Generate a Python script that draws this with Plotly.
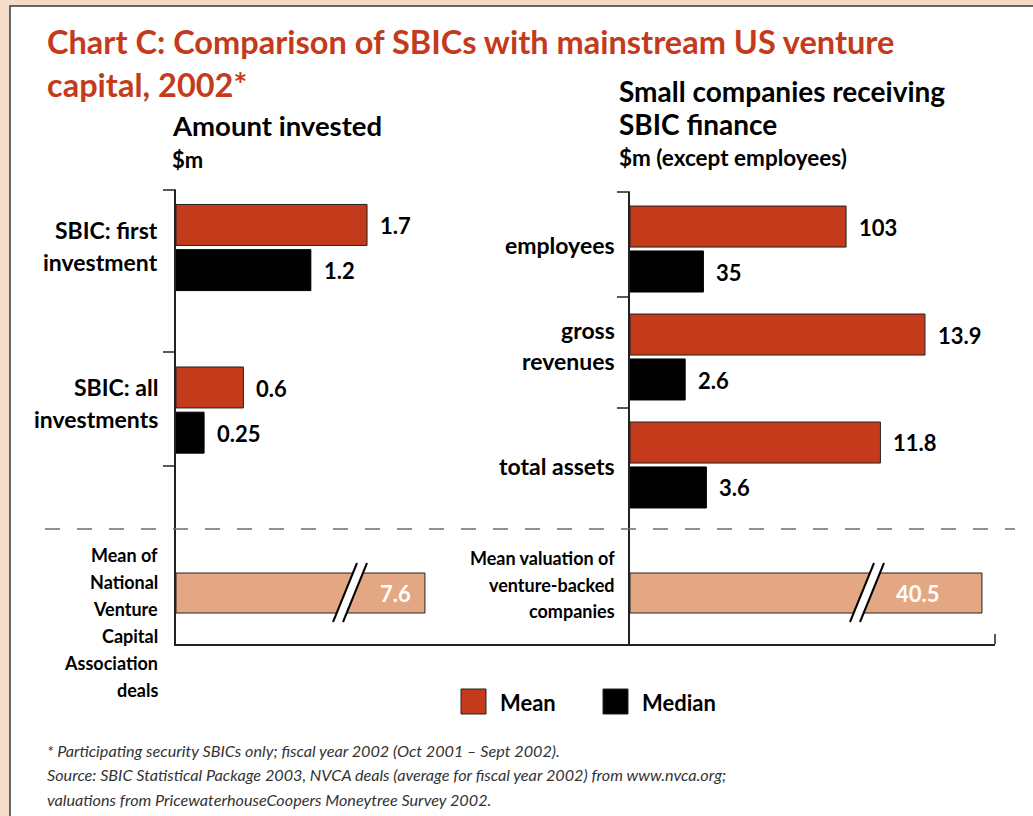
import plotly.graph_objects as go

# ---- data -------------------------------------------------------------
left_categories = ["SBIC: first investment", "SBIC: all investments"]
left_label_lines = [["SBIC: first", "investment"], ["SBIC: all", "investments"]]
left_mean = [1.7, 0.6]
left_median = [1.2, 0.25]

right_categories = ["employees", "gross revenues", "total assets"]
right_label_lines = [["employees"], ["gross", "revenues"], ["total assets"]]
employee_categories = ["employees"]
employees_mean = [103]
employees_median = [35]
money_categories = ["gross revenues", "total assets"]
money_mean = [13.9, 11.8]
money_median = [2.6, 3.6]

nvca_categories = ["Mean of National Venture Capital Association deals"]
nvca_label_lines = ["Mean of", "National", "Venture", "Capital", "Association", "deals"]
nvca_mean = [7.6]
valuation_categories = ["Mean valuation of venture-backed companies"]
valuation_label_lines = ["Mean valuation of", "venture-backed", "companies"]
valuation_mean = [40.5]

title_lines = ["Chart C: Comparison of SBICs with mainstream US venture", "capital, 2002*"]
footnotes = [
    "* Participating security SBICs only; fiscal year 2002 (Oct 2001 \u2013 Sept 2002).",
    "Source: SBIC Statistical Package 2003, NVCA deals (average for fiscal year 2002) from www.nvca.org;",
    "valuations from PricewaterhouseCoopers Moneytree Survey 2002.",
]

# ---- styling ----------------------------------------------------------
W, H = 1033, 816
RED = "#C33B1B"
BLACK = "#000000"
PEACH_BAR = "#E4A784"
PAGE = "#F5DCC9"
EDGE = "#222222"
FONT = "Lato"
HEAVY = 700


def fx(px):
    return px / W


def fy(py):
    return 1 - py / H


def bold(size, color=BLACK):
    return dict(family=FONT, size=size, color=color, weight=HEAVY)


annotations = []
shapes = []


def text(t, x, y, size, color=BLACK, anchor="left", weight=HEAVY, style="normal"):
    annotations.append(dict(
        text=t, x=fx(x), y=fy(y), xref="paper", yref="paper",
        xanchor=anchor, yanchor="middle", showarrow=False,
        font=dict(family=FONT, size=size, color=color, weight=weight, style=style),
    ))


def stacked(lines, x_right, y_first, spacing, size):
    for i, line in enumerate(lines):
        text(line, x_right, y_first + i * spacing, size, anchor="right")


def line(x0, y0, x1, y1, color=EDGE, width=1.5, dash=None):
    shapes.append(dict(type="line", xref="paper", yref="paper",
                       x0=fx(x0), y0=fy(y0), x1=fx(x1), y1=fy(y1),
                       line=dict(color=color, width=width, dash=dash)))


fig = go.Figure()

hbar = dict(orientation="h", showlegend=False, hoverinfo="skip")
red_style = dict(color=RED, line=dict(color=EDGE, width=1))
black_style = dict(color=BLACK, line=dict(color=BLACK, width=1))

# Left panel: amount invested
L_W, L_OFF = 0.252, 0.013
fig.add_trace(go.Bar(y=left_categories, x=left_mean, marker=red_style,
                     width=L_W, offset=-L_W - L_OFF, xaxis="x", yaxis="y", **hbar))
fig.add_trace(go.Bar(y=left_categories, x=left_median, marker=black_style,
                     width=L_W, offset=L_OFF, xaxis="x", yaxis="y", **hbar))

# Right panel: employees on their own scale, money values on a $m scale
R_W, R_OFF = 0.38, 0.018
fig.add_trace(go.Bar(y=employee_categories, x=employees_mean, marker=red_style,
                     width=R_W, offset=-R_W - R_OFF, xaxis="x3", yaxis="y2", **hbar))
fig.add_trace(go.Bar(y=employee_categories, x=employees_median, marker=black_style,
                     width=R_W, offset=R_OFF, xaxis="x3", yaxis="y2", **hbar))
fig.add_trace(go.Bar(y=money_categories, x=money_mean, marker=red_style,
                     width=R_W, offset=-R_W - R_OFF, xaxis="x2", yaxis="y2", **hbar))
fig.add_trace(go.Bar(y=money_categories, x=money_median, marker=black_style,
                     width=R_W, offset=R_OFF, xaxis="x2", yaxis="y2", **hbar))

# Bottom strip: venture-capital benchmarks on broken scales
peach_style = dict(color=PEACH_BAR, line=dict(color=EDGE, width=1))
fig.add_trace(go.Bar(y=nvca_categories, x=nvca_mean, marker=peach_style,
                     width=0.4, offset=-0.2, xaxis="x4", yaxis="y4", **hbar))
fig.add_trace(go.Bar(y=valuation_categories, x=valuation_mean, marker=peach_style,
                     width=0.4, offset=-0.2, xaxis="x5", yaxis="y5", **hbar))

# value labels
def value_labels(cats, vals, xref, yref, yshift):
    for c, v in zip(cats, vals):
        annotations.append(dict(
            text=f"{v:g}", x=v, y=c, xref=xref, yref=yref,
            xanchor="left", yanchor="middle", xshift=11, yshift=yshift,
            showarrow=False, font=bold(22)))


value_labels(left_categories, left_mean, "x", "y", 22)
value_labels(left_categories, left_median, "x", "y", -23)
value_labels(employee_categories, employees_mean, "x3", "y2", 22)
value_labels(employee_categories, employees_median, "x3", "y2", -23)
value_labels(money_categories, money_mean, "x2", "y2", 22)
value_labels(money_categories, money_median, "x2", "y2", -23)

for cats, vals, xr, yr, shift in [(nvca_categories, nvca_mean, "x4", "y4", -12),
                                  (valuation_categories, valuation_mean, "x5", "y5", -40)]:
    for c, v in zip(cats, vals):
        annotations.append(dict(
            text=f"{v:g}", x=v, y=c, xref=xr, yref=yr,
            xanchor="right", yanchor="middle", xshift=shift, showarrow=False,
            font=bold(22, "white")))

# titles
text(title_lines[0], 45, 41, 32.5, RED)
text(title_lines[1], 45, 85, 32.5, RED)
text("Amount invested", 170, 125, 27.5)
text("$m", 170, 160, 22)
text("Small companies receiving", 617, 91, 28)
text("SBIC finance", 617, 124, 28)
text("$m (except employees)", 617, 157, 22.5)

# category labels
for lines, y0 in zip(left_label_lines, [230, 387]):
    stacked(lines, 160, y0, 32, 23)
for lines, y0 in zip(right_label_lines, [245, 330, 466]):
    stacked(lines, 617, y0, 31, 23)
stacked(nvca_label_lines, 160, 555, 27, 18)
stacked(valuation_label_lines, 617, 558, 26.5, 18)

# footnotes
for i, note in enumerate(footnotes):
    text(note, 45, 750 + i * 24.5, 16.2, "#333333", weight=400, style="italic")

# legend
for (x0, color, label) in [(461, RED, "Mean"), (603, BLACK, "Median")]:
    shapes.append(dict(type="rect", xref="paper", yref="paper",
                       x0=fx(x0), x1=fx(x0 + 25), y0=fy(714), y1=fy(689),
                       fillcolor=color, line=dict(color=EDGE, width=1)))
    text(label, x0 + 37, 702, 22)

# page frame
shapes.insert(0, dict(type="rect", xref="paper", yref="paper", layer="below",
                      x0=fx(10), y0=fy(840), x1=fx(1050), y1=fy(6),
                      fillcolor="white", line=dict(color="#3a3a3a", width=1.5)))

# axis ticks at band edges
for y in [190, 352, 466]:
    line(163, y, 176, y)
for y in [192, 297, 408]:
    line(617, y, 630, y)
line(995, 644, 995, 634)

# dashed divider
line(45, 529, 1015, 529, color="#6f6f6f", width=1.5, dash="15px,17px")

# scale-break marks on the benchmark bars
for xb in [333, 850]:
    path = (f"M {fx(xb)},{fy(622)} L {fx(xb + 24)},{fy(563)} "
            f"L {fx(xb + 34)},{fy(563)} L {fx(xb + 10)},{fy(622)} Z")
    shapes.append(dict(type="path", xref="paper", yref="paper", path=path,
                       fillcolor="white", line=dict(width=0)))
    line(xb, 622, xb + 24, 563, color=BLACK, width=2)
    line(xb + 10, 622, xb + 34, 563, color=BLACK, width=2)

hidden_x = dict(visible=False, showgrid=False, zeroline=False, fixedrange=True)
cat_y = dict(type="category", showline=True, linecolor=EDGE, linewidth=1.5,
             showticklabels=False, ticks="", showgrid=False, zeroline=False)
line_x = dict(showline=True, linecolor=EDGE, linewidth=1.5, showticklabels=False,
              ticks="", showgrid=False, zeroline=False)

fig.update_layout(
    width=W, height=H,
    margin=dict(l=0, r=0, t=0, b=0),
    paper_bgcolor=PAGE, plot_bgcolor="rgba(0,0,0,0)",
    barmode="overlay", showlegend=False,
    xaxis=dict(domain=[fx(176), fx(630)], range=[0, 4.04], anchor="y", **hidden_x),
    yaxis=dict(domain=[fy(530), fy(190)], range=[1.738, -0.354], anchor="x",
               categoryorder="array", categoryarray=left_categories, **cat_y),
    xaxis2=dict(domain=[fx(630), fx(995)], range=[0, 17.2], anchor="y2", **hidden_x),
    xaxis3=dict(domain=[fx(630), fx(995)], range=[0, 174], anchor="y2",
                overlaying="x2", **hidden_x),
    yaxis2=dict(domain=[fy(530), fy(192)], range=[2.602, -0.528], anchor="x2",
                categoryorder="array", categoryarray=right_categories, **cat_y),
    xaxis4=dict(domain=[fx(176), fx(630)], range=[0, 13.86], anchor="y4", **line_x),
    yaxis4=dict(domain=[fy(644), fy(530)], range=[0.51, -0.63], anchor="x4", **cat_y),
    xaxis5=dict(domain=[fx(630), fx(995)], range=[0, 42.0], anchor="y5", **line_x),
    yaxis5=dict(domain=[fy(644), fy(530)], range=[0.51, -0.63], anchor="x5", **cat_y),
    annotations=annotations,
    shapes=shapes,
)

fig.write_html("out.html")
